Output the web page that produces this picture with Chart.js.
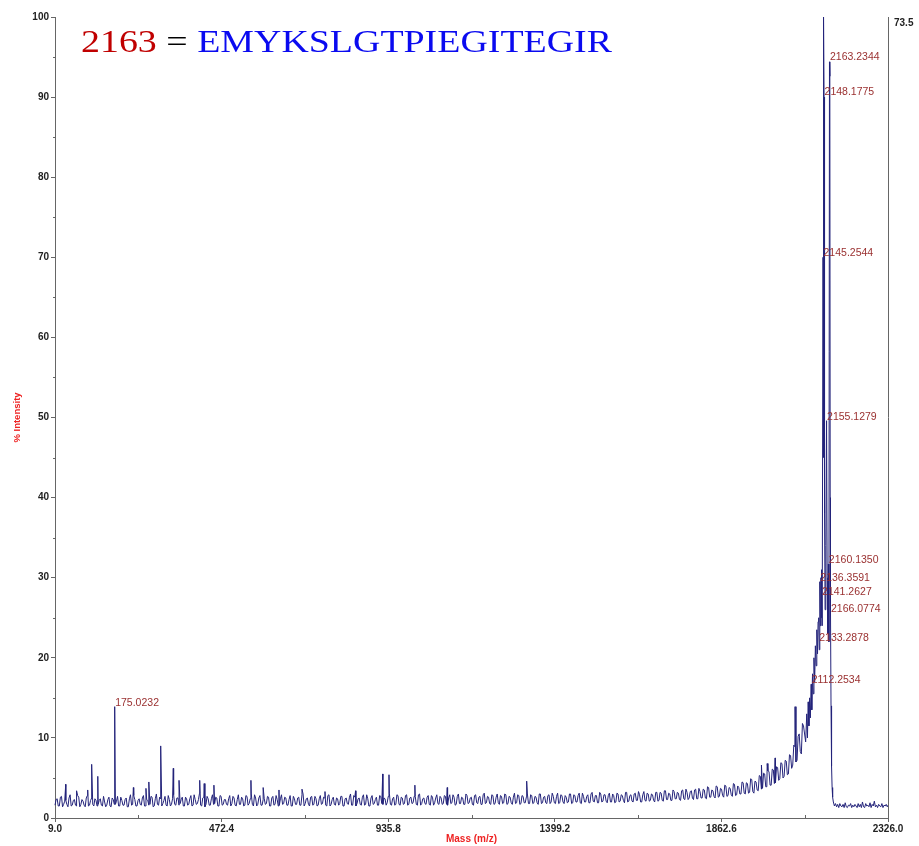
<!DOCTYPE html>
<html><head><meta charset="utf-8">
<script src="https://cdn.jsdelivr.net/npm/chart.js@4/dist/chart.umd.min.js"></script>
<style>html,body{margin:0;padding:0;background:#fff;overflow:hidden}#wrap{width:919px;height:846px}</style>
</head><body><div id="wrap"><canvas id="c" width="919" height="846"></canvas></div>
<script>
// ---- text ----
const titleMass = '2163';
const titleEquals = ' = ';
const titleSequence = 'EMYKSLGTPIEGITEGIR';
const xAxisTitle = 'Mass (m/z)';
const yAxisTitle = '% Intensity';
const fullScaleIntensity = '73.5';

// ---- axes ----
const xTickValues = [9.0, 472.4, 935.8, 1399.2, 1862.6, 2326.0];
const xMinorTickValues = [240.7, 704.1, 1167.5, 1630.9, 2094.3];
const yTickValues = [0, 10, 20, 30, 40, 50, 60, 70, 80, 90, 100];
const yMinorTickValues = [5, 15, 25, 35, 45, 55, 65, 75, 85, 95];

// ---- baseline noise, sampled every 6 Da from 9 Da ----
const noiseStartMass = 9;
const noiseStepMass = 6;
const noiseIntensity = [
1.6,2.4,1.5,2.7,1.7,2.2,1.4,2.9,1.6,2.3,1.5,2.6,1.7,2.1,1.4,2.8,1.6,2.5,1.5,2.2,
1.7,2.4,1.5,2.0,1.6,2.6,1.4,2.3,1.7,2.7,1.5,2.2,1.6,2.5,1.4,2.9,1.7,2.3,1.5,2.4,
1.6,2.8,1.5,2.2,1.7,2.6,1.5,3.0,1.6,2.4,1.8,2.7,1.5,2.3,1.7,2.9,1.6,2.5,1.8,2.6,
1.5,2.4,1.7,2.8,1.6,2.3,1.8,3.1,1.5,2.6,1.7,2.4,1.6,2.9,1.8,2.5,1.5,2.7,1.7,2.3,
1.6,2.8,1.8,2.5,1.5,2.9,1.7,2.4,1.6,2.7,1.8,3.0,1.5,2.5,1.7,2.8,1.6,2.4,1.8,2.6,
1.5,2.7,1.7,2.3,1.6,2.9,1.8,2.5,1.6,2.8,1.5,2.4,1.7,2.6,1.6,3.0,1.8,2.5,1.5,2.7,
1.7,2.4,1.6,2.8,1.8,2.5,1.5,2.9,1.7,2.6,1.6,2.4,1.8,2.7,1.5,2.5,1.7,3.0,1.6,2.6,
1.8,2.5,1.6,2.9,1.7,2.4,1.5,2.8,1.8,2.6,1.6,2.7,1.7,2.4,1.9,3.1,1.6,2.6,1.7,2.8,
1.6,2.5,1.8,2.9,1.7,2.6,1.9,2.7,1.6,3.0,1.8,2.5,1.7,2.8,1.6,2.6,1.9,2.9,1.7,2.5,
1.8,2.7,1.6,2.9,1.9,2.6,1.7,3.0,1.8,2.5,1.7,2.8,1.9,2.6,1.6,2.9,1.8,2.7,1.7,3.1,
1.9,2.6,1.7,2.8,1.8,3.0,1.7,2.7,1.9,2.9,1.8,2.6,1.7,3.1,1.9,2.8,1.8,2.7,1.9,3.0,
1.8,2.8,1.9,2.6,1.7,3.0,1.9,2.7,1.8,2.9,2.0,2.7,1.8,3.1,1.9,2.8,1.8,2.6,2.0,3.0,
1.9,2.8,2.0,3.1,1.8,2.7,2.0,2.9,1.9,3.2,2.0,2.8,1.9,3.0,2.1,2.9,1.9,3.1,2.0,2.8,
2.0,3.0,2.1,2.8,1.9,3.2,2.1,2.9,2.0,3.1,2.2,2.9,2.0,3.3,2.1,3.0,2.2,2.9,2.0,3.2,
2.2,3.1,2.1,3.4,2.3,3.0,2.2,3.3,2.4,3.1,2.2,3.5,2.3,3.2,2.5,3.4,2.3,3.6,2.4,3.3,
2.5,3.5,2.4,3.8,2.6,3.4,2.5,3.9,2.7,3.6,2.6,4.0,2.8,3.7,2.7,4.2,2.9,3.8,3.0,4.4,
3.0,4.3,3.2,4.8,3.1,4.5,3.4,5.2,3.7,5.5,3.9,5.8,4.1,6.0,4.4,6.3,4.9,6.8,5.2,7.1,
5.5,7.8,6.6,8.9,7.2,10.5,8.0,11.5
];
// ---- baseline noise, in-between samples every 6 Da from 12 Da ----
const noiseMidStartMass = 12;
const noiseMidIntensity = [
2.3,1.5,2.6,1.4,2.1,1.7,2.5,1.5,2.2,1.6,2.8,1.4,2.3,1.6,2.5,1.5,2.2,1.7,2.4,1.5,
2.2,1.6,2.7,1.4,2.3,1.5,2.5,1.7,2.1,1.5,2.6,1.6,2.3,1.4,2.4,1.6,2.8,1.5,2.2,1.7,
2.5,1.5,2.3,1.6,2.7,1.4,2.4,1.7,2.6,1.5,2.2,1.6,2.8,1.5,2.4,1.7,2.5,1.6,2.3,1.5,
2.6,1.6,2.4,1.5,2.9,1.7,2.3,1.6,2.5,1.4,2.7,1.6,2.4,1.7,2.6,1.5,2.8,1.6,2.3,1.7,
2.4,1.5,2.7,1.6,2.3,1.7,2.6,1.5,2.8,1.6,2.4,1.7,2.9,1.5,2.5,1.6,2.3,1.7,2.7,1.5,
2.5,1.6,2.8,1.5,2.4,1.7,2.6,1.6,2.3,1.5,2.7,1.7,2.5,1.6,2.9,1.5,2.4,1.7,2.6,1.6,
2.7,1.5,2.4,1.7,2.6,1.6,2.8,1.5,2.3,1.7,2.5,1.6,2.7,1.5,2.4,1.8,2.6,1.6,2.8,1.5,
2.4,1.7,2.6,1.6,2.9,1.5,2.5,1.7,2.3,1.6,2.8,1.8,2.5,1.6,2.7,1.7,2.4,1.6,2.9,1.7,
2.6,1.7,2.8,1.6,2.5,1.8,2.7,1.7,2.9,1.6,2.4,1.8,2.6,1.7,2.8,1.6,2.5,1.8,2.7,1.7,
2.8,1.7,2.5,1.8,2.9,1.6,2.7,1.8,2.6,1.7,3.0,1.8,2.5,1.7,2.8,1.9,2.6,1.7,2.9,1.8,
2.7,1.8,2.9,1.7,2.6,1.9,2.8,1.8,3.0,1.7,2.7,1.9,2.6,1.8,2.9,1.7,2.8,1.9,2.6,1.8,
2.9,1.8,2.7,1.9,3.0,1.8,2.6,1.9,2.8,1.8,3.1,1.9,2.7,1.8,2.9,2.0,2.8,1.9,3.0,1.8,
2.9,2.0,2.8,1.9,3.1,2.0,2.7,1.9,3.0,2.1,2.8,1.9,3.2,2.0,2.9,2.1,2.8,2.0,3.0,1.9,
3.1,2.0,2.9,2.2,3.2,2.0,2.8,2.1,3.0,2.2,3.3,2.0,2.9,2.2,3.1,2.1,3.0,2.2,3.2,2.1,
3.2,2.2,3.4,2.3,3.1,2.2,3.5,2.4,3.2,2.3,3.4,2.4,3.6,2.3,3.3,2.5,3.5,2.4,3.7,2.5,
3.6,2.5,3.9,2.6,3.5,2.7,4.0,2.6,3.7,2.8,4.1,2.7,3.8,2.9,4.3,2.8,4.0,3.0,4.5,3.1,
4.4,3.1,4.9,3.3,4.6,3.5,5.3,3.6,5.6,3.9,5.9,4.1,6.1,4.3,6.4,4.7,6.9,5.0,7.2,5.4,
7.9,6.2,9.1,7.0,10.2,8.3,11.8
];

// ---- isolated spikes above the baseline ----
const spikeMass = [38.8, 69, 100, 111, 128, 175.0232, 227, 262, 270, 303, 338, 354, 411.5, 424, 451, 554, 588, 632, 696, 760, 845, 920.5, 938, 1010, 1100, 1321, 1974, 1990, 2012, 2067.5];
const spikeIntensity = [4.2, 3.4, 3.5, 6.7, 5.2, 13.9, 3.8, 3.7, 4.5, 9.0, 6.2, 4.7, 4.7, 4.3, 4.1, 4.7, 3.8, 3.5, 3.6, 3.3, 3.4, 5.5, 5.4, 4.1, 3.8, 4.6, 6.6, 6.8, 7.5, 13.9];

// ---- main peak cluster ----
const clusterMass = [2097, 2100, 2102, 2104, 2106, 2108, 2110, 2112.25, 2114, 2116, 2118, 2120, 2122, 2124, 2126, 2128, 2130, 2131.5, 2133.29, 2134.8, 2136.36, 2138, 2139.5, 2140.3, 2141.26, 2143, 2145.25, 2146.2, 2147.2, 2148.18, 2149.5, 2151, 2153, 2155.13, 2156.8, 2158.5, 2160.14, 2161.6, 2163.23, 2164.2, 2165.2, 2166.08, 2167.5, 2169, 2170.5, 2172, 2174, 2177, 2180];
const clusterIntensity = [9.5, 13.0, 10.0, 14.5, 11.5, 15.0, 12.5, 16.7, 13.5, 18.0, 15.5, 20.0, 17.0, 21.5, 19.0, 23.5, 20.5, 24.5, 25.0, 21.0, 29.5, 24.0, 30.0, 25.0, 31.0, 24.0, 70.0, 45.0, 100.0, 90.0, 38.0, 26.0, 34.0, 49.6, 30.0, 23.0, 31.7, 22.0, 94.4, 92.6, 40.0, 25.6, 14.0, 6.5, 3.8, 2.6, 2.0, 1.5, 1.8];

// ---- tail after the cluster, every 3 Da from 2183 Da ----
const tailStartMass = 2183;
const tailStepMass = 3;
const tailIntensity = [1.4,1.7,1.3,1.8,1.5,1.4,1.7,1.3,1.9,1.4,1.3,1.6,1.5,1.8,1.3,1.6,1.4,1.7,1.5,1.3,1.8,1.4,1.7,1.3,2.0,1.4,1.3,1.8,1.5,1.6,1.4,1.9,1.3,1.7,1.5,2.1,1.4,1.6,1.3,1.7,1.5,1.4,1.8,1.3,1.6,1.5,1.7,1.4];
const endMass = 2326;
const endIntensity = 1.6;

// ---- annotated peaks (mass, text, label level in %) ----
const peakLabelMass = [175.0232, 2163.2344, 2148.1775, 2145.2544, 2155.1279, 2160.1350, 2136.3591, 2141.2627, 2166.0774, 2133.2878, 2112.2534];
const peakLabelText = ['175.0232', '2163.2344', '2148.1775', '2145.2544', '2155.1279', '2160.1350', '2136.3591', '2141.2627', '2166.0774', '2133.2878', '2112.2534'];
const peakLabelLevel = [14.0, 94.6, 90.2, 70.2, 49.7, 31.8, 29.6, 27.8, 25.7, 22.1, 16.9];

// ---- build trace ----
const trace = [];
noiseIntensity.forEach((v, i) => trace.push({x: noiseStartMass + i * noiseStepMass, y: v}));
noiseMidIntensity.forEach((v, i) => trace.push({x: noiseMidStartMass + i * noiseStepMass, y: v}));
spikeMass.forEach((m, i) => trace.push({x: m, y: spikeIntensity[i]}));
clusterMass.forEach((m, i) => trace.push({x: m, y: clusterIntensity[i]}));
tailIntensity.forEach((v, i) => trace.push({x: tailStartMass + i * tailStepMass, y: v}));
trace.push({x: endMass, y: endIntensity});
trace.sort((a, b) => a.x - b.x);

const SANS = '"Liberation Sans", Arial, sans-serif';
const SERIF = '"Liberation Serif", "Times New Roman", serif';
const AXIS_COLOR = '#666666';

const decor = {
  id: 'decor',
  afterDraw(chart) {
    const ctx = chart.ctx;
    const xs = chart.scales.x, ys = chart.scales.y;
    const a = chart.chartArea;
    ctx.save();
    ctx.strokeStyle = AXIS_COLOR; ctx.lineWidth = 1;
    ctx.beginPath(); ctx.moveTo(a.right + 0.5, a.top); ctx.lineTo(a.right + 0.5, a.bottom); ctx.stroke();
    ctx.beginPath();
    yMinorTickValues.forEach(v => { const y = Math.round(ys.getPixelForValue(v)) + 0.5; ctx.moveTo(a.left - 2, y); ctx.lineTo(a.left, y); });
    xMinorTickValues.forEach(v => { const x = Math.round(xs.getPixelForValue(v)) + 0.5; ctx.moveTo(x, a.bottom); ctx.lineTo(x, a.bottom - 3); });
    ctx.stroke();
    ctx.fillStyle = '#222'; ctx.font = 'bold 10px ' + SANS; ctx.textAlign = 'left'; ctx.textBaseline = 'top';
    ctx.fillText(fullScaleIntensity, a.right + 6, a.top + 1);
    ctx.fillStyle = '#ee2222'; ctx.font = 'bold 10px ' + SANS; ctx.textAlign = 'center'; ctx.textBaseline = 'middle';
    ctx.fillText(xAxisTitle, (a.left + a.right) / 2, 839);
    ctx.save(); ctx.translate(17, (a.top + a.bottom) / 2); ctx.rotate(-Math.PI / 2);
    ctx.font = 'bold 9.5px ' + SANS; ctx.fillText(yAxisTitle, 0, 0); ctx.restore();
    ctx.fillStyle = '#9a3030'; ctx.font = '10.5px ' + SANS; ctx.textAlign = 'left'; ctx.textBaseline = 'alphabetic';
    peakLabelMass.forEach((m, i) => {
      ctx.fillText(peakLabelText[i], xs.getPixelForValue(m) + 0.5, ys.getPixelForValue(peakLabelLevel[i]));
    });
    ctx.font = '31px ' + SERIF; ctx.textBaseline = 'alphabetic';
    const w1 = ctx.measureText(titleMass).width, w2 = ctx.measureText(titleEquals).width, w3 = ctx.measureText(titleSequence).width;
    const sx = 531 / (w1 + w2 + w3);
    ctx.translate(81, 52); ctx.scale(sx, 1);
    ctx.fillStyle = '#c00000'; ctx.fillText(titleMass, 0, 0);
    ctx.fillStyle = '#000000'; ctx.fillText(titleEquals, w1, 0);
    ctx.fillStyle = '#0a0af0'; ctx.fillText(titleSequence, w1 + w2, 0);
    ctx.restore();
  }
};

new Chart(document.getElementById('c'), {
  type: 'scatter',
  data: { datasets: [{ data: trace, showLine: true, pointRadius: 0, borderColor: '#23237a', borderWidth: 1, tension: 0, clip: false }] },
  options: {
    responsive: false, animation: false, devicePixelRatio: 1,
    layout: { padding: { top: 17, right: 31, left: 0, bottom: 0 } },
    plugins: { legend: { display: false }, tooltip: { enabled: false } },
    scales: {
      x: {
        type: 'linear', min: 9, max: 2326,
        afterBuildTicks: s => { s.ticks = xTickValues.map(v => ({ value: v })); },
        afterFit: s => { s.height = 28; },
        ticks: { callback: v => Number(v).toFixed(1), color: '#222', font: { family: SANS, size: 10, weight: 'bold' }, padding: 1, maxRotation: 0, autoSkip: false },
        grid: { drawOnChartArea: false, drawTicks: true, tickLength: 4, color: AXIS_COLOR },
        border: { color: AXIS_COLOR, width: 1 }
      },
      y: {
        type: 'linear', min: 0, max: 100,
        afterBuildTicks: s => { s.ticks = yTickValues.map(v => ({ value: v })); },
        afterFit: s => { s.width = 55; },
        ticks: { color: '#222', font: { family: SANS, size: 10, weight: 'bold' }, padding: 2 },
        grid: { drawOnChartArea: false, drawTicks: true, tickLength: 4, color: AXIS_COLOR },
        border: { color: AXIS_COLOR, width: 1 }
      }
    }
  },
  plugins: [decor]
});
</script></body></html>
